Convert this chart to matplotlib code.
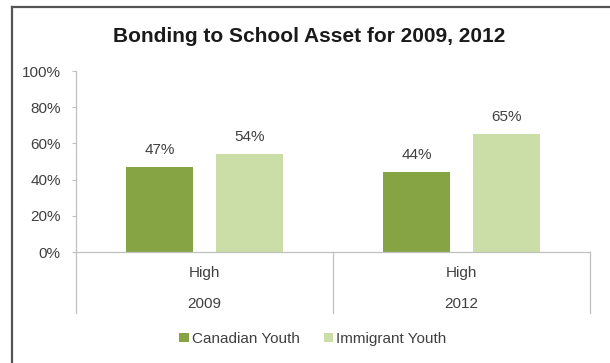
import matplotlib
matplotlib.use("Agg")
import matplotlib.pyplot as plt
from matplotlib.lines import Line2D
from matplotlib.patches import Patch
import numpy as np

plt.rcParams['font.family'] = ['Liberation Sans', 'DejaVu Sans']

# values
years = ['2009', '2012']
level = 'High'
series = ['Canadian Youth', 'Immigrant Youth']
canadian = [47, 44]
immigrant = [54, 65]
yticks = [0, 20, 40, 60, 80, 100]

dark_green = '#86a443'
light_green = '#cbdea7'
axis_grey = '#c0c0c0'
text_grey = '#404040'
fs = 11

fig = plt.figure(figsize=(6.10, 3.63), dpi=100)
ax = fig.add_axes([76/610, 1-252/363, (590-76)/610, (252-71)/363])

x = np.arange(len(years))
w = 0.26
off = 0.175
b1 = ax.bar(x - off, canadian, w, color=dark_green)
b2 = ax.bar(x + off, immigrant, w, color=light_green)

# value labels above each bar
for bars, vals in [(b1, canadian), (b2, immigrant)]:
    for r, v in zip(bars, vals):
        ax.text(r.get_x() + r.get_width()/2, v + 9.5, f'{v}%',
                ha='center', va='center', fontsize=fs, color=text_grey)

ax.set_xlim(-0.5, 1.5)
ax.set_ylim(0, 100)
ax.set_yticks(yticks)
ax.set_yticklabels([f'{t}%' for t in yticks], fontsize=fs, color=text_grey)
ax.tick_params(axis='y', length=3, width=0.8, color=axis_grey, pad=8)
ax.set_xticks([])

for s in ['top', 'right']:
    ax.spines[s].set_visible(False)
for s in ['left', 'bottom']:
    ax.spines[s].set_color(axis_grey)
    ax.spines[s].set_linewidth(0.9)

# category separators and two-level labels under the axis
tr = ax.get_xaxis_transform()
for sx in [-0.5, 0.5, 1.5]:
    ax.plot([sx, sx], [0, -0.337], transform=tr, clip_on=False,
            color=axis_grey, lw=0.9)
for xi, yr in zip(x, years):
    ax.text(xi, -0.118, level, transform=tr, ha='center', va='center',
            fontsize=fs, color=text_grey)
    ax.text(xi, -0.285, yr, transform=tr, ha='center', va='center',
            fontsize=fs, color=text_grey)

fig.text(309/610, 1-36/363, 'Bonding to School Asset for 2009, 2012',
         ha='center', va='center', fontsize=15, fontweight='bold',
         color='#1a1a1a')

handles = [Patch(facecolor=dark_green, edgecolor='none'),
           Patch(facecolor=light_green, edgecolor='none')]
fig.legend(handles, series, loc='center', bbox_to_anchor=(313/610, 1-339/363),
           ncol=2, frameon=False, fontsize=fs, handlelength=0.6,
           handleheight=0.6, handletextpad=0.2, columnspacing=1.6,
           labelcolor=text_grey)

# frame lines on the left and top edges
fig.add_artist(Line2D([12/610, 12/610], [0, 1-7/363], color='#555555', lw=1.6))
fig.add_artist(Line2D([12/610, 1], [1-7/363, 1-7/363], color='#555555', lw=1.6))

fig.savefig('out.png', dpi=100)
